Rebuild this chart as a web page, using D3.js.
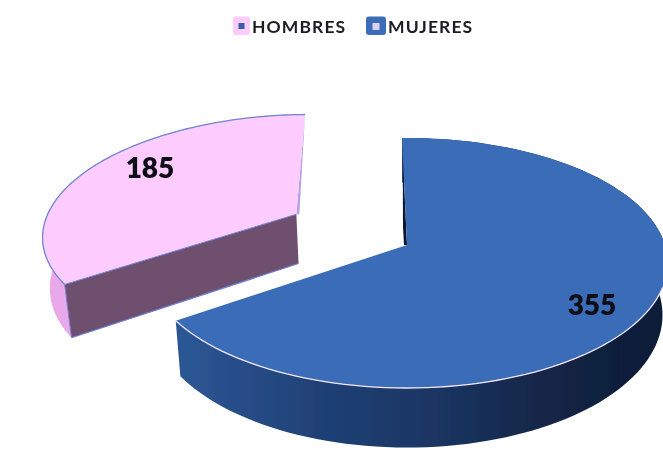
<!DOCTYPE html>
<html>
<head>
<meta charset="utf-8">
<script src="https://cdn.jsdelivr.net/npm/d3@7/dist/d3.min.js"></script>
<style>
html,body{margin:0;padding:0;background:#fff;overflow:hidden}
svg{display:block}
text{font-family:Lato,"Open Sans",sans-serif}
</style>
</head>
<body>
<svg id="chart" width="663" height="470"></svg>
<script>
const categories = ["HOMBRES", "MUJERES"];
const values = [185, 355];
const explodeU = [-0.445, 0];
const explodeV = [0.26, 0];
const topColors = ["#FFCCFF", "#3B6CB8"];
const arcWallColors = ["#E9A8EA", "url(#blueSide)"];
const edgeColors = ["#6E83D2", "#F3E6FA"];

const W = 663, H = 470;
const cx = 407, cy = 245, Rx = 258, Ry = 122.4, persp = 0.144, depth = 51, converge = 0.02;
const startDeg = -124.6;

const svg = d3.select("#chart");
const defs = svg.append("defs");
defs.append("filter").attr("id", "soft").attr("x", 0).attr("y", 0).attr("width", 1).attr("height", 1)
  .append("feGaussianBlur").attr("stdDeviation", 0.45);
const grad = defs.append("linearGradient").attr("id", "blueSide")
  .attr("gradientUnits", "userSpaceOnUse").attr("x1", 178).attr("x2", 663).attr("y1", 0).attr("y2", 0);
[[0, "#2C5795"], [0.1, "#284F8B"], [0.3, "#1F4075"], [0.5, "#1B3766"], [0.7, "#152A4E"], [0.85, "#11213F"], [1, "#0E1C36"]]
  .forEach(([o, c]) => grad.append("stop").attr("offset", o).attr("stop-color", c));

const sx = d3.scaleLinear().domain([-1, 1]).range([cx - Rx, cx + Rx]);
const sy = d3.scaleLinear().domain([-1, 1]).range([cy + Ry, cy - Ry]);

// Perspective projection of a point on the pie disc (u right, v far, z 0 top / 1 bottom)
function project(u, v, z) {
  const den = 1 + persp * v;
  const x = sx(u / den);
  return [x + (cx - x) * converge * z, sy(v / den) + depth * z / den];
}

const pie = d3.pie().sort(null).startAngle(startDeg * Math.PI / 180)
  .endAngle((startDeg + 360) * Math.PI / 180);
const arcs = pie(values);
const line = d3.line();

function sliceGeom(a, i) {
  const ou = explodeU[i], ov = explodeV[i];
  const angles = d3.range(0, 121).map(k => a.startAngle + (a.endAngle - a.startAngle) * k / 120);
  const rim = z => angles.map(t => project(ou + Math.sin(t), ov + Math.cos(t), z));
  return { apex: z => project(ou, ov, z), rim, angles };
}

const root = svg.append("g").attr("filter", "url(#soft)");
const geoms = arcs.map(sliceGeom);

arcs.forEach((a, i) => {
  const g = geoms[i];
  const group = root.append("g").attr("class", "slice-" + categories[i]);
  // outer curved wall: only the part facing the viewer
  const wallTop = i === 0 ? g.rim(0).slice(0, 45) : g.rim(0);
  const wallBottom = i === 0 ? g.rim(1).slice(0, 45) : g.rim(1);
  group.append("path")
    .attr("d", line(wallTop.concat(wallBottom.reverse())) + "Z")
    .attr("fill", arcWallColors[i]);
  if (i === 0) {
    // front radial wall of the separated slice
    const r0 = g.rim(0)[0], r1 = g.rim(1)[0];
    group.append("path")
      .attr("d", line([g.apex(0), r0, r1, g.apex(1)]) + "Z")
      .attr("fill", "#6E4F6E");
    group.append("path")
      .attr("d", line([r0, r1]))
      .attr("stroke", "#6E83D2").attr("stroke-width", 1).attr("fill", "none");
    group.append("path")
      .attr("d", line([r1, g.apex(1)]))
      .attr("stroke", "#6E83D2").attr("stroke-width", 1.2).attr("fill", "none");
    // light inner side next to the upper straight edge
    const rEnd = g.rim(0)[120], ap = g.apex(0);
    group.append("path")
      .attr("d", line([rEnd, [ap[0] + 3, ap[1]], ap]) + "Z")
      .attr("fill", "#B7A0E6");
  } else {
    // dark sliver on the inner straight edge
    const r = g.rim(0)[0], ap = g.apex(0);
    const far = [ap[0] + (r[0] - ap[0]) * 0.86, ap[1] + (r[1] - ap[1]) * 0.86];
    group.append("path")
      .attr("d", line([ap, far, [ap[0] - 4, ap[1] - 18], [ap[0] - 3, ap[1]]]) + "Z")
      .attr("fill", "#0E1530");
  }
  // top face
  group.append("path")
    .attr("d", line([g.apex(0)].concat(g.rim(0))) + "Z")
    .attr("fill", topColors[i]);
  // rim outline
  const outlinePts = i === 0 ? g.rim(0) : g.rim(0).filter((p, k) => g.angles[k] > Math.PI * 0.6);
  group.append("path")
    .attr("d", line(outlinePts))
    .attr("stroke", edgeColors[i]).attr("stroke-width", 1.3).attr("fill", "none");
  if (i === 0) {
    group.append("path")
      .attr("d", line([g.rim(0)[0], g.apex(0)]))
      .attr("stroke", "#6E83D2").attr("stroke-width", 1).attr("fill", "none");
  }
});

// value labels
const labelPos = [[150, 167], [592, 304]];
root.selectAll("text.val").data(values).join("text")
  .attr("class", "val")
  .attr("x", (d, i) => labelPos[i][0])
  .attr("y", (d, i) => labelPos[i][1])
  .attr("text-anchor", "middle").attr("dominant-baseline", "central")
  .attr("font-size", 28).attr("font-weight", 800).attr("fill", "#0A0A14")
  .text(d => d);

// legend
const legendX = [233, 366], legendW = [17, 20], legendTextX = [252, 388];
const legendInner = ["#3B5BA8", "#DCD0F5"], legendInnerW = [6, 7];
const lg = root.append("g").attr("class", "legend");
categories.forEach((c, i) => {
  lg.append("rect").attr("x", legendX[i]).attr("y", 16.5).attr("width", legendW[i]).attr("height", 18.5)
    .attr("rx", 3).attr("fill", topColors[i]);
  const ix = legendX[i] + (legendW[i] - legendInnerW[i]) / 2;
  lg.append("rect").attr("x", ix).attr("y", 23).attr("width", legendInnerW[i]).attr("height", legendInnerW[i])
    .attr("fill", legendInner[i]);
  lg.append("text").attr("x", legendTextX[i]).attr("y", 26)
    .attr("dominant-baseline", "central").attr("font-size", 17.5).attr("font-weight", 700)
    .attr("letter-spacing", 1.1).attr("fill", "#1c1c22").text(c);
});
</script>
</body>
</html>
